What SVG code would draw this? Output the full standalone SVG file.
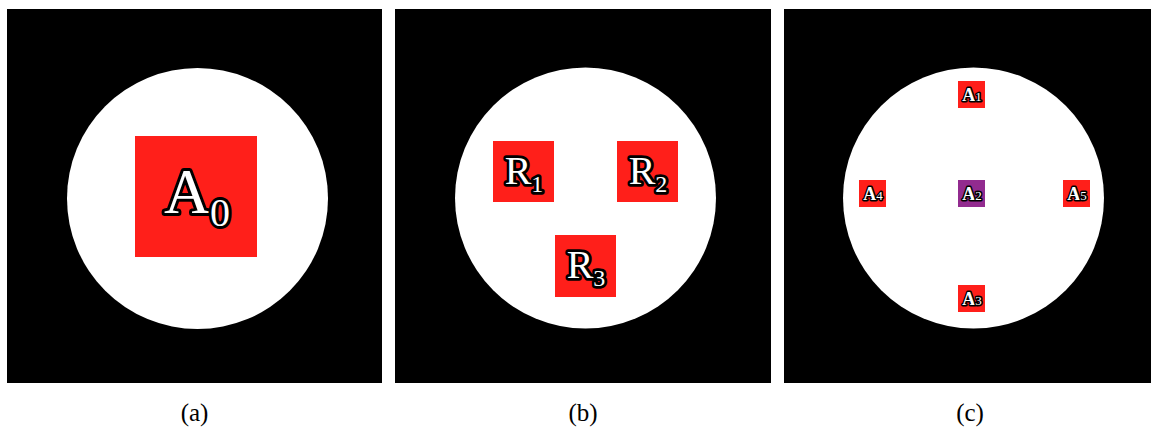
<svg xmlns="http://www.w3.org/2000/svg" width="1151" height="432" viewBox="0 0 1151 432">
<style>
.bg{fill:#000}
.disk{fill:#fff}
.red{fill:#ff1f1a}
.purple{fill:#922b8f}
.lbl{font-family:"Liberation Serif","DejaVu Serif",serif;fill:#fff;stroke:#000;stroke-linejoin:round;paint-order:stroke}
.big{font-size:64px;stroke-width:6}
.mid{font-size:40px;stroke-width:5.5}
.sm{font-size:18px;stroke-width:3;font-weight:bold}
.cap{font-family:"Liberation Serif","DejaVu Serif",serif;font-size:25px;fill:#000;text-anchor:middle}
</style>
<rect width="1151" height="432" fill="#fff"/>
<g id="panel-a">
  <rect class="bg" x="7" y="9" width="375" height="374"/>
  <circle class="disk" cx="197.5" cy="198.5" r="130.5"/>
  <g id="node-A0">
    <rect class="red" x="135" y="136" width="122" height="121"/>
    <text class="lbl big" x="197" y="213" text-anchor="middle">A<tspan dy="13" font-size="40">0</tspan></text>
  </g>
  <text class="cap" x="194.5" y="421">(a)</text>
</g>
<g id="panel-b">
  <rect class="bg" x="395" y="9" width="376" height="374"/>
  <circle class="disk" cx="585.5" cy="198" r="130.5"/>
  <g id="node-R1">
    <rect class="red" x="493" y="141" width="61" height="61"/>
    <text class="lbl mid" x="524" y="183.5" text-anchor="middle">R<tspan dy="8.5" font-size="24">1</tspan></text>
  </g>
  <g id="node-R2">
    <rect class="red" x="617" y="141" width="61" height="61"/>
    <text class="lbl mid" x="648" y="183.5" text-anchor="middle">R<tspan dy="8.5" font-size="24">2</tspan></text>
  </g>
  <g id="node-R3">
    <rect class="red" x="555" y="235" width="61" height="62"/>
    <text class="lbl mid" x="586" y="277.5" text-anchor="middle">R<tspan dy="8.5" font-size="24">3</tspan></text>
  </g>
  <text class="cap" x="583" y="421">(b)</text>
</g>
<g id="panel-c">
  <rect class="bg" x="784" y="9" width="367" height="374"/>
  <circle class="disk" cx="973.5" cy="198" r="130.5"/>
  <g id="node-A1">
    <rect class="red" x="958" y="81" width="27" height="27"/>
    <text class="lbl sm" x="972" y="101" text-anchor="middle">A<tspan font-size="13" font-weight="normal">1</tspan></text>
  </g>
  <g id="node-A2">
    <rect class="purple" x="958" y="180" width="27" height="27"/>
    <text class="lbl sm" x="972" y="200" text-anchor="middle">A<tspan font-size="13" font-weight="normal">2</tspan></text>
  </g>
  <g id="node-A3">
    <rect class="red" x="958" y="285" width="27" height="27"/>
    <text class="lbl sm" x="972" y="305" text-anchor="middle">A<tspan font-size="13" font-weight="normal">3</tspan></text>
  </g>
  <g id="node-A4">
    <rect class="red" x="859" y="180" width="27" height="27"/>
    <text class="lbl sm" x="873" y="200" text-anchor="middle">A<tspan font-size="13" font-weight="normal">4</tspan></text>
  </g>
  <g id="node-A5">
    <rect class="red" x="1063" y="180" width="27" height="27"/>
    <text class="lbl sm" x="1077" y="200" text-anchor="middle">A<tspan font-size="13" font-weight="normal">5</tspan></text>
  </g>
  <text class="cap" x="970" y="421">(c)</text>
</g>
<g id="connectors"/>
</svg>
